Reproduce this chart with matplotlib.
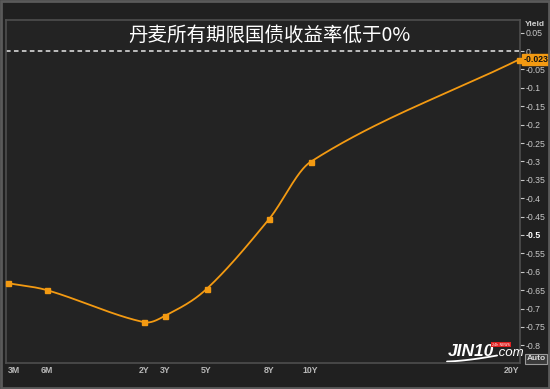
import numpy as np
import matplotlib
matplotlib.use("Agg")
import matplotlib.pyplot as plt
from matplotlib.patches import Rectangle

plt.rcParams['font.family'] = ['Noto Sans CJK SC', 'DejaVu Sans']

# ---------------- data ----------------
tenors = ["3M", "6M", "2Y", "3Y", "5Y", "8Y", "10Y", "20Y"]
tenor_years = [0.25, 0.5, 2, 3, 5, 8, 10, 20]
yields = [-0.631, -0.650, -0.737, -0.720, -0.647, -0.457, -0.301, -0.023]
title = "丹麦所有期限国债收益率低于0%"
last_label = "-0.023"

# axis knots of the (non-linear) tenor axis
knot_years = [0.0, 0.25, 0.5, 2.0, 20.0]
knot_pos = [-39.0, 0.0, 39.0, 136.0, 511.0]

def tpos(yrs):
    return np.interp(yrs, knot_years, knot_pos)

xs = tpos(np.array(tenor_years, dtype=float))
ys = np.array(yields)

# smooth cubic Hermite (Catmull-Rom style) curve through points
def smooth(x, y, n=40):
    px = np.concatenate([[2 * x[0] - x[1]], x, [2 * x[-1] - x[-2]]])
    py = np.concatenate([[2 * y[0] - y[1]], y, [2 * y[-1] - y[-2]]])
    ox, oy = [], []
    for i in range(1, len(px) - 2):
        x0, x1, x2, x3 = px[i - 1:i + 3]
        y0, y1, y2, y3 = py[i - 1:i + 3]
        h = x2 - x1
        m1 = (y2 - y0) / (x2 - x0) * h
        m2 = (y3 - y1) / (x3 - x1) * h
        t = np.linspace(0, 1, n)
        h00 = 2 * t**3 - 3 * t**2 + 1
        h10 = t**3 - 2 * t**2 + t
        h01 = -2 * t**3 + 3 * t**2
        h11 = t**3 - t**2
        ox.append(x1 + t * h)
        oy.append(h00 * y1 + h10 * m1 + h01 * y2 + h11 * m2)
    return np.concatenate(ox), np.concatenate(oy)

cx, cy = smooth(xs, ys)

# ---------------- figure ----------------
W, H = 550, 389
fig = plt.figure(figsize=(W / 100, H / 100), dpi=100, facecolor="#202020")
ax = fig.add_axes([6 / W, 1 - 363 / H, (520 - 6) / W, (363 - 20) / H])
ax.set_facecolor("#232323")
for s in ax.spines.values():
    s.set_color("#4e4e4e")
    s.set_linewidth(1.2)

orange = "#f39a12"
ax.plot(cx, cy, color=orange, lw=1.3, zorder=3, clip_on=False)
ax.plot(xs, ys, "s", color=orange, ms=3.6, zorder=4, clip_on=False)

ax.axhline(0, color="#e8e8e8", lw=1.1, ls=(0, (3, 2.2)), zorder=2)

ax.set_xlim(-2, 512)
ax.set_ylim(-0.848, 0.0845)

lab_font = "Liberation Sans"

# y axis on right
yt = np.round(np.arange(0.05, -0.80001, -0.05), 2)
ax.yaxis.tick_right()
ax.set_yticks(yt)
labs = []
for v in yt:
    if abs(v) < 1e-9:
        labs.append("0")
    else:
        labs.append(("%.2f" % v).rstrip("0").rstrip("."))
ax.set_yticklabels(labs, family=lab_font)
ax.tick_params(axis="y", colors="#c8c8c8", labelsize=6.3, length=3, width=0.8, pad=1,
               direction="out")
for lbl in ax.get_yticklabels():
    if lbl.get_text() == "-0.5":
        lbl.set_color("#ffffff")
        lbl.set_fontweight("bold")

# x axis
ax.set_xticks(xs)
ax.set_xticklabels(tenors, family=lab_font, fontweight="bold")
ax.tick_params(axis="x", colors="#b8b8b8", labelsize=6.3, length=0, pad=2)
xl = ax.get_xticklabels()
xl[0].set_ha("left")
xl[-1].set_ha("right")

# Yield label
fig.text(535 / W, 1 - 25 / H, "Yield", color="#d0d0d0", fontsize=6, fontweight="bold",
         family=lab_font, ha="center", va="center")

# last value box
ax.annotate(last_label, xy=(1, yields[-1]), xycoords=("axes fraction", "data"),
            xytext=(2.5, 0), textcoords="offset points", ha="left", va="center",
            fontsize=6.3, fontweight="bold", color="#111111", family=lab_font,
            bbox=dict(boxstyle="square,pad=0.12", fc=orange, ec=orange), zorder=6,
            annotation_clip=False)

# title
ax.text(0.513, 0.956, title, transform=ax.transAxes, color="white", fontsize=14,
        ha="center", va="center")

# watermark
def axp(px, py):
    return (px - 6) / 514, 1 - (py - 20) / 343

wx, wy = axp(494, 356)
ax.text(wx, wy, "JIN10", transform=ax.transAxes, color="white", fontsize=12.5,
        fontweight="bold", style="italic", ha="right", va="baseline", family=lab_font)
ax.text(wx + 0.002, wy, ".com", transform=ax.transAxes, color="white", fontsize=9.5,
        style="italic", ha="left", va="baseline", family=lab_font)
bx, by = axp(510, 344.5)
ax.text(bx, by, "24h NEWS", transform=ax.transAxes,
        color="white", fontsize=2.4, ha="right", va="center", family="DejaVu Sans",
        bbox=dict(boxstyle="square,pad=0.2", fc="#e02020", ec="none"))
# logo swoosh
sx = np.linspace(447, 497, 30)
sy = 361.5 - 6.0 * ((sx - 447) / 50) ** 1.5
ax.plot((sx - 6) / 514, 1 - (sy - 20) / 343, color="white", lw=1.3,
        transform=ax.transAxes, solid_capstyle="round")

# Auto button
fig.text(536 / W, 1 - 359 / H, "Auto", color="#dddddd", fontsize=6, fontweight="bold",
         family=lab_font, ha="center", va="center",
         bbox=dict(boxstyle="square,pad=0.18", fc="#3a3a3a", ec="#9a9a9a", lw=0.8))

# outer border
fig.patches.append(Rectangle((0.002, 0.003), 0.996, 0.994, transform=fig.transFigure,
                             fill=False, ec="#5a5a5a", lw=2))

fig.savefig("out.png", dpi=100, facecolor=fig.get_facecolor())
